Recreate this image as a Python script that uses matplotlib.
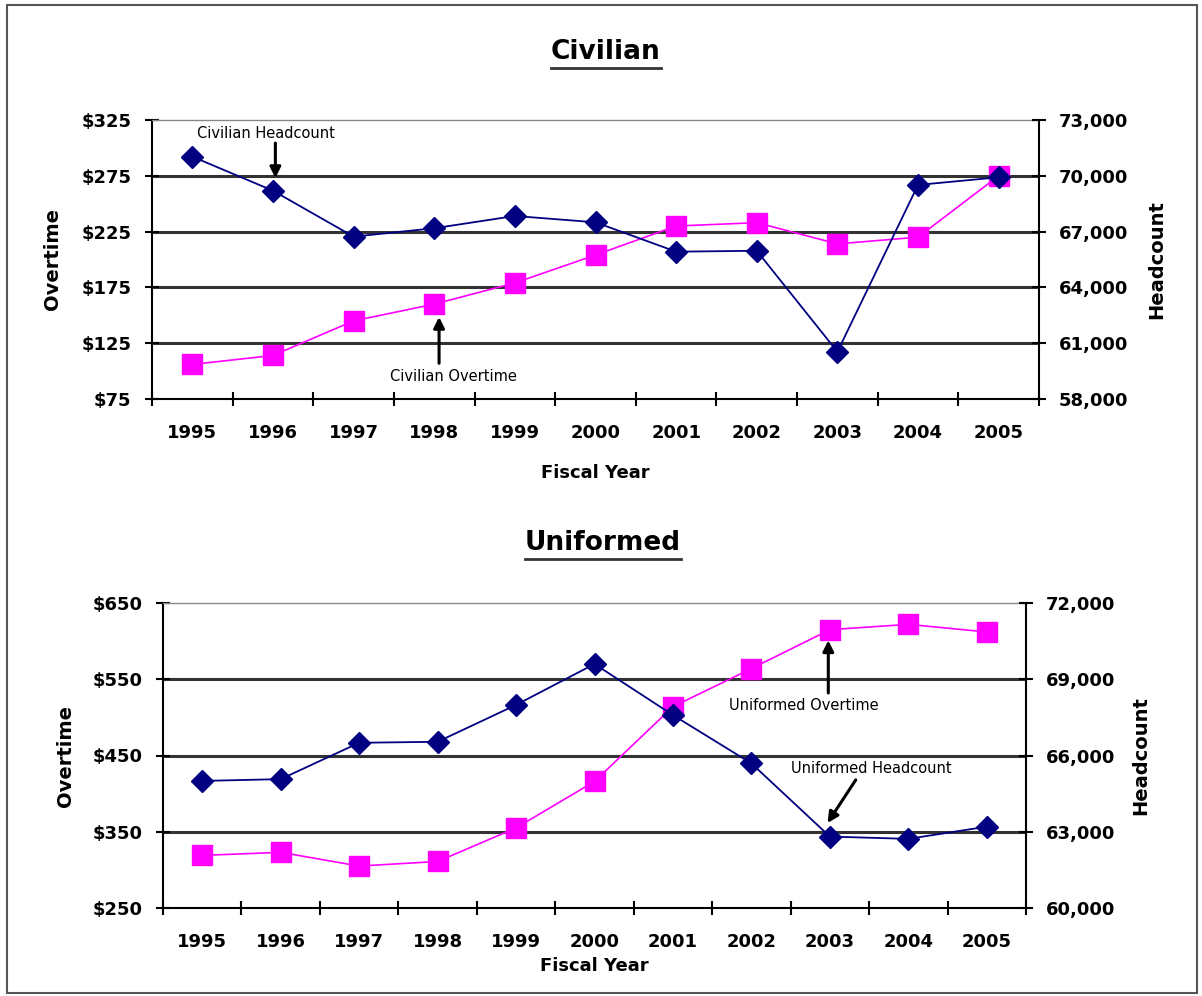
import matplotlib
matplotlib.use("Agg")
import matplotlib.pyplot as plt
from matplotlib.lines import Line2D
from matplotlib.patches import Rectangle
from matplotlib.ticker import FuncFormatter, FixedLocator

# data
years = ['1995', '1996', '1997', '1998', '1999', '2000', '2001', '2002', '2003', '2004', '2005']

civ_overtime = [106, 114, 145, 160, 179, 204, 230, 233, 214, 220, 275]
civ_headcount = [71030, 69200, 66730, 67180, 67840, 67500, 65920, 65970, 60540, 69510, 69920]

uni_overtime = [319, 323, 305, 311, 355, 416, 514, 564, 615, 622, 612]
uni_headcount = [65000, 65070, 66500, 66540, 67990, 69600, 67590, 65690, 62810, 62720, 63200]

civ_ot_ticks = [75, 125, 175, 225, 275, 325]
civ_hc_ticks = [58000, 61000, 64000, 67000, 70000, 73000]
uni_ot_ticks = [250, 350, 450, 550, 650]
uni_hc_ticks = [60000, 63000, 66000, 69000, 72000]

NAVY = '#000080'
PINK = '#FF00FF'
W, H = 1202, 996

plt.rcParams['font.family'] = ['DejaVu Sans']

fig = plt.figure(figsize=(W / 100, H / 100), dpi=100)


def box(left, top, right, bottom):
    return [left / W, 1 - bottom / H, (right - left) / W, (bottom - top) / H]


def make_panel(rect, ot, hc, ot_ticks, hc_ticks, xlabel_y):
    ax = fig.add_axes(rect)
    x = list(range(len(years)))
    ax.set_xlim(-0.5, len(years) - 0.5)
    ax.set_ylim(ot_ticks[0], ot_ticks[-1])
    for t in ot_ticks[1:-1]:
        ax.axhline(t, color='#333333', lw=2.2, zorder=1)
    ax.plot(x, ot, color=PINK, lw=1.2, marker='s', ms=14,
            mfc=PINK, mec=PINK, zorder=3)

    ax.xaxis.set_major_locator(FixedLocator([i - 0.5 for i in range(len(years) + 1)]))
    ax.xaxis.set_minor_locator(FixedLocator(x))
    ax.set_xticklabels([], minor=False)
    ax.set_xticklabels(years, minor=True, fontsize=13, fontweight='bold')
    ax.tick_params(axis='x', which='major', direction='inout', length=10, width=1.5)
    ax.tick_params(axis='x', which='minor', length=0, pad=18)

    ax.set_yticks(ot_ticks)
    ax.yaxis.set_major_formatter(FuncFormatter(lambda v, p: '${:.0f}'.format(v)))
    ax.tick_params(axis='y', direction='inout', length=10, width=1.5, pad=10,
                   labelsize=13)
    for lab in ax.get_yticklabels():
        lab.set_fontweight('bold')

    ax.spines['left'].set_linewidth(1.5)
    ax.spines['bottom'].set_linewidth(1.5)
    ax.spines['top'].set_color('#888888')
    ax.spines['top'].set_linewidth(1)
    ax.spines['right'].set_visible(False)

    ax.set_ylabel('Overtime', fontsize=14, fontweight='bold')
    ax.yaxis.set_label_coords(-0.102, 0.5)
    ax.set_xlabel('Fiscal Year', fontsize=13, fontweight='bold')
    ax.xaxis.set_label_coords(0.5, xlabel_y)

    ax2 = ax.twinx()
    ax2.set_ylim(hc_ticks[0], hc_ticks[-1])
    ax2.plot(x, hc, color=NAVY, lw=1.3, marker='D', ms=11,
             mfc=NAVY, mec=NAVY, zorder=4)
    ax2.set_yticks(hc_ticks)
    ax2.yaxis.set_major_formatter(FuncFormatter(lambda v, p: '{:,.0f}'.format(v)))
    ax2.tick_params(axis='y', direction='inout', length=10, width=1.5, pad=9,
                    labelsize=13)
    for lab in ax2.get_yticklabels():
        lab.set_fontweight('bold')
    for s in ['top', 'left', 'bottom']:
        ax2.spines[s].set_visible(False)
    ax2.spines['right'].set_linewidth(1.5)
    ax2.set_ylabel('Headcount', fontsize=14, fontweight='bold', rotation=90)
    ax2.yaxis.set_label_coords(1.122, 0.5)
    return ax, ax2


arrow = dict(arrowstyle='-|>', color='black', lw=2.2, mutation_scale=16,
             shrinkA=0, shrinkB=0)

# Civilian
ax, ax2 = make_panel(box(152, 120, 1039, 399), civ_overtime, civ_headcount,
                     civ_ot_ticks, civ_hc_ticks, -0.233)
ax2.text(0.06, 72300, 'Civilian Headcount', fontsize=10.5, va='center', ha='left')
ax2.annotate('', xy=(1.03, 69880), xytext=(1.03, 71760), arrowprops=arrow)
ax.text(2.45, 95.6, 'Civilian Overtime', fontsize=10.5, va='center', ha='left')
ax.annotate('', xy=(3.06, 148.5), xytext=(3.06, 107), arrowprops=arrow)

# Uniformed
bx, bx2 = make_panel(box(163, 603, 1026, 908), uni_overtime, uni_headcount,
                     uni_ot_ticks, uni_hc_ticks, -0.161)
bx.text(6.71, 515, 'Uniformed Overtime', fontsize=10.5, va='center', ha='left')
bx.annotate('', xy=(7.98, 601), xytext=(7.98, 532), arrowprops=arrow)
bx2.text(7.5, 65470, 'Uniformed Headcount', fontsize=10.5, va='center', ha='left')
bx2.annotate('', xy=(7.97, 63345), xytext=(8.33, 65040), arrowprops=arrow)

# underlined panel titles
titles = [('Civilian', 606, 52), ('Uniformed', 603, 543)]
fig.canvas.draw()
renderer = fig.canvas.get_renderer()
for label, px, py in titles:
    t = fig.text(px / W, 1 - py / H, label, fontsize=19, fontweight='bold',
                 ha='center', va='center')
    bb = t.get_window_extent(renderer=renderer)
    yline = (bb.y0 - 3) / H
    fig.add_artist(Line2D([bb.x0 / W, bb.x1 / W], [yline, yline],
                          color='#333333', lw=2, transform=fig.transFigure))

# outer frame
fig.add_artist(Rectangle((7 / W, 1 - 993 / H), 1190 / W, 988 / H, fill=False,
                         ec='#555555', lw=1.5, transform=fig.transFigure))

plt.savefig('out.png', dpi=100)
